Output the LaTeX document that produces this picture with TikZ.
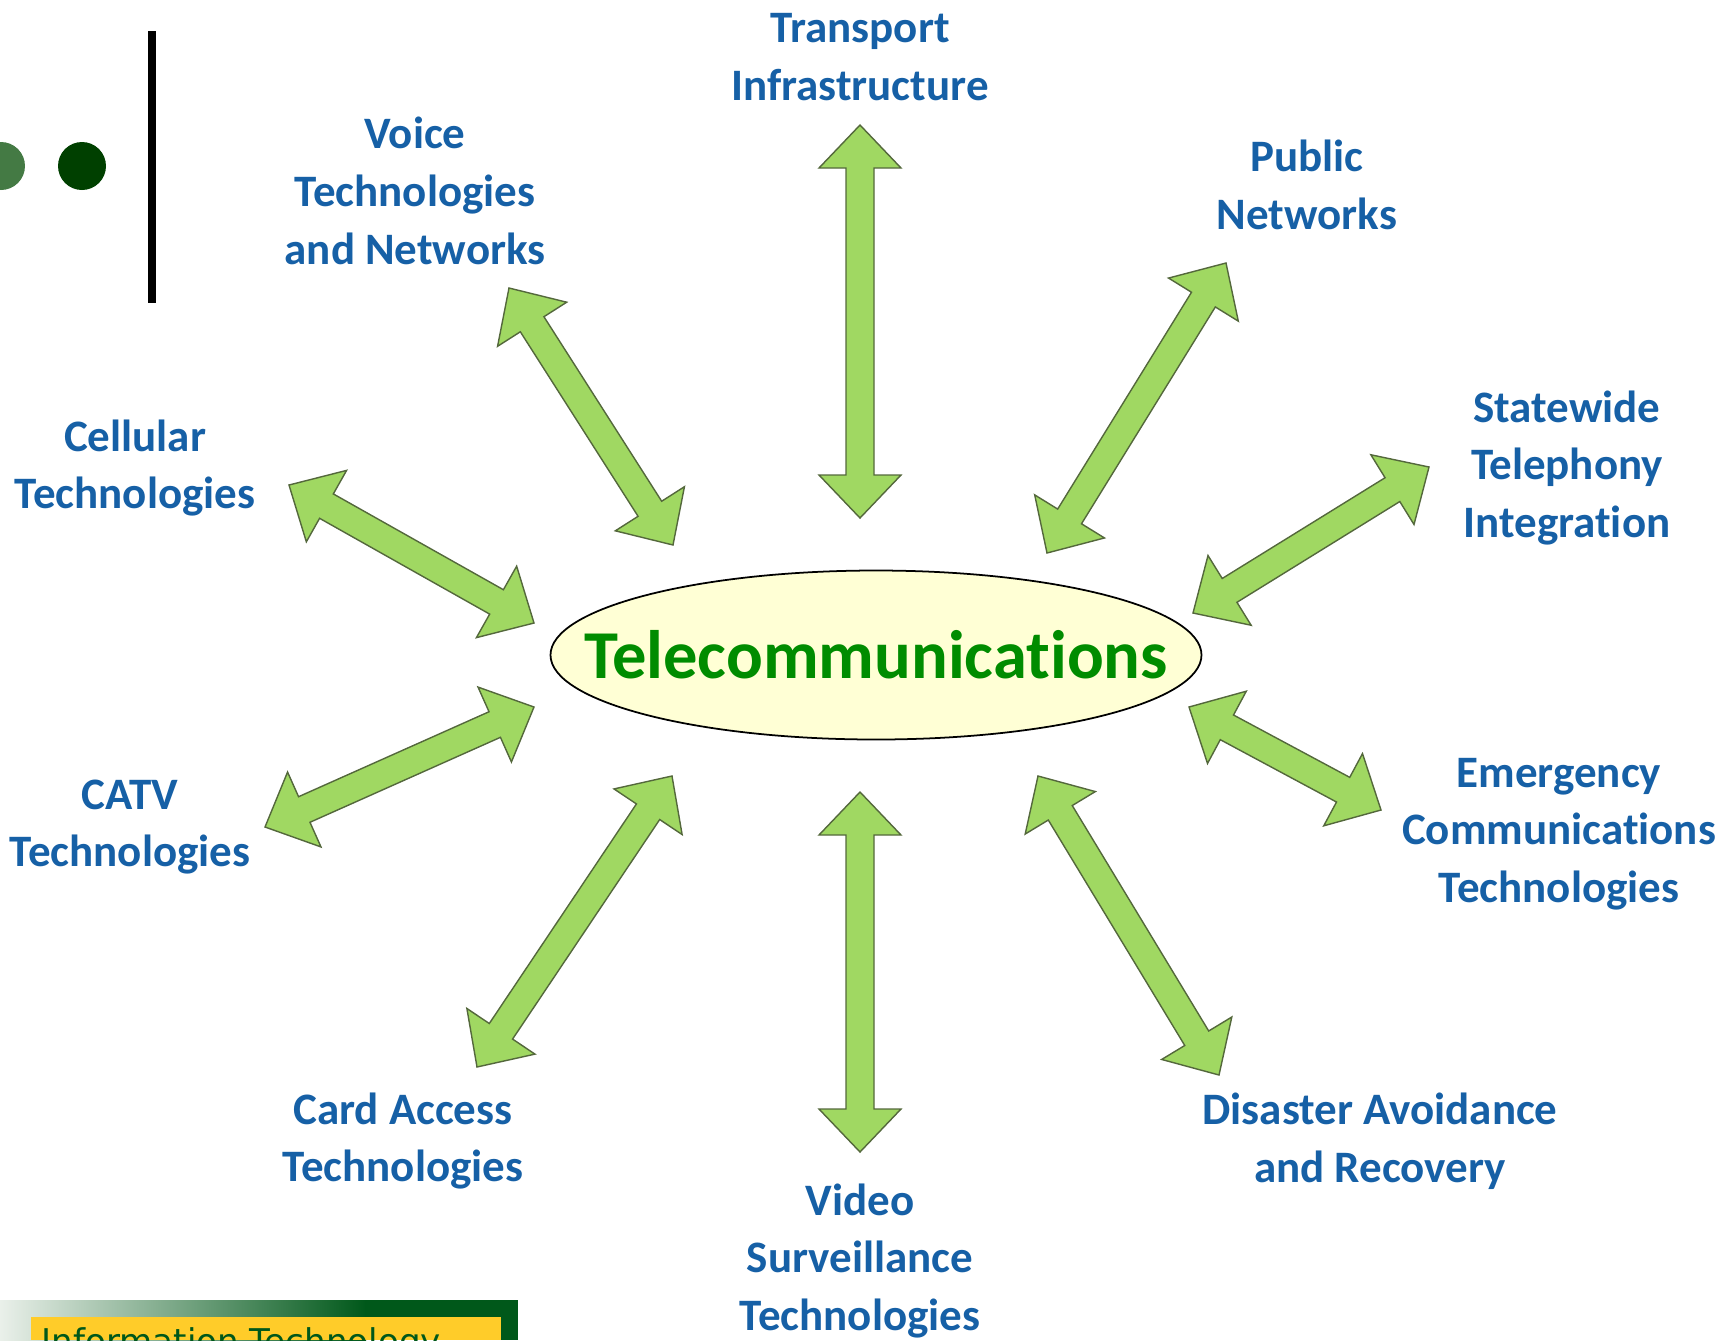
\documentclass[tikz,border=0pt]{standalone}
\usepackage{fontspec}
\setmainfont{Carlito}[Ligatures={NoCommon}]
\newfontfamily\bannerfont{DejaVu Sans}
\usetikzlibrary{positioning, calc, shapes.geometric}

\definecolor{topicblue}{RGB}{22,96,166}
\definecolor{telegreen}{RGB}{0,140,0}
\definecolor{ovalfill}{RGB}{255,255,213}
\definecolor{arrowgreen}{RGB}{160,216,98}
\definecolor{arrowedge}{RGB}{84,104,60}
\definecolor{dotlight}{RGB}{68,122,68}
\definecolor{dotdark}{RGB}{0,64,0}
\definecolor{bannerdark}{RGB}{0,88,26}
\definecolor{bannerlight}{RGB}{234,240,234}
\definecolor{banneryellow}{RGB}{255,204,41}

\newcommand{\headlen}{4.3mm}
\newcommand{\headhalf}{4.1mm}
\newcommand{\shafthalf}{1.4mm}

% two-headed block arrow between two named coordinates
\newcommand{\bothways}[2]{%
	\filldraw[blockarrow] (#1)
		-- ($(#1)!{\headlen}!(#2)!{\headhalf}!90:(#2)$)
		-- ($(#1)!{\headlen}!(#2)!{\shafthalf}!90:(#2)$)
		-- ($(#2)!{\headlen}!(#1)!{\shafthalf}!-90:(#1)$)
		-- ($(#2)!{\headlen}!(#1)!{\headhalf}!-90:(#1)$)
		-- (#2)
		-- ($(#2)!{\headlen}!(#1)!{\headhalf}!90:(#1)$)
		-- ($(#2)!{\headlen}!(#1)!{\shafthalf}!90:(#1)$)
		-- ($(#1)!{\headlen}!(#2)!{\shafthalf}!-90:(#2)$)
		-- ($(#1)!{\headlen}!(#2)!{\headhalf}!-90:(#2)$)
		-- cycle;}

\begin{document}
\begin{tikzpicture}[x=0.1mm, y=-0.1mm,
		topic/.style={align=center, inner sep=0pt, text=topicblue, font=\bfseries\fontsize{12.8pt}{16.4pt}\selectfont},
		hub/.style={ellipse, draw, line width=0.5pt, fill=ovalfill, minimum width=65.1mm, minimum height=16.9mm, inner sep=0pt, text=telegreen, font=\bfseries\fontsize{19.5pt}{22pt}\selectfont},
		blockarrow/.style={fill=arrowgreen, draw=arrowedge, line width=0.4pt, line join=miter}]
	\useasboundingbox (0,0) rectangle (1733,1340);

	% Slide decoration
	\fill[dotlight] (1,166) circle[radius=2.4mm];
	\fill[dotdark] (82,166) circle[radius=2.4mm];
	\fill[black] (148,31) rectangle (156,303);
	\begin{scope}
		\clip (0,1300) rectangle (518,1340);
		\shade[left color=bannerlight, right color=bannerdark] (0,1300) rectangle (366,1340);
		\fill[bannerdark] (365,1300) rectangle (518,1340);
		\fill[banneryellow] (31,1317) rectangle (501,1340);
		\node[anchor=base west, inner sep=0pt, text=bannerdark, font=\bannerfont\fontsize{9.7pt}{11pt}\selectfont] (banner) at (41,1353) {Information Technology};
	\end{scope}

	% Draw the vertices.
	\node[hub] (tele) at (876,655) {\makebox[0pt]{Telecommunications}};
	\node[topic] (transport) at (860,57) {Transport\\Infrastructure};
	\node[topic] (voice) at (415,191) {Voice\\Technologies\\and Networks};
	\node[topic] (public) at (1307,185) {Public\\Networks};
	\node[topic] (statewide) at (1567,468) {Statewide\\Telephony\\Integration};
	\node[topic] (cellular) at (135,468) {Cellular\\Technologies};
	\node[topic] (catv) at (130,827) {CATV\\Technologies};
	\node[topic] (emergency) at (1559,834) {Emergency\\Communications\\Technologies};
	\node[topic] (card) at (403,1141) {Card Access\\Technologies};
	\node[topic] (video) at (860,1261) {Video\\Surveillance\\Technologies};
	\node[topic] (disaster) at (1380,1141) {Disaster Avoidance\\and Recovery};

	% Arrow ends
	\coordinate (transport-out) at (860,125);
	\coordinate (transport-in) at (860,518);
	\coordinate (video-in) at (860,792);
	\coordinate (video-out) at (860,1152);
	\coordinate (voice-out) at (509,288);
	\coordinate (voice-in) at (673,545);
	\coordinate (public-out) at (1226,263);
	\coordinate (public-in) at (1047,553);
	\coordinate (statewide-out) at (1429,467);
	\coordinate (statewide-in) at (1193,613);
	\coordinate (cellular-out) at (289,485);
	\coordinate (cellular-in) at (534,623);
	\coordinate (catv-out) at (265,827);
	\coordinate (catv-in) at (534,707);
	\coordinate (emergency-in) at (1189,707);
	\coordinate (emergency-out) at (1381,810);
	\coordinate (card-in) at (672,776);
	\coordinate (card-out) at (477,1067);
	\coordinate (disaster-in) at (1038,776);
	\coordinate (disaster-out) at (1219,1075);

	% Connect vertices with block arrows
	\bothways{transport-out}{transport-in}
	\bothways{video-in}{video-out}
	\bothways{voice-out}{voice-in}
	\bothways{public-out}{public-in}
	\bothways{statewide-out}{statewide-in}
	\bothways{cellular-out}{cellular-in}
	\bothways{catv-out}{catv-in}
	\bothways{emergency-in}{emergency-out}
	\bothways{card-in}{card-out}
	\bothways{disaster-in}{disaster-out}
\end{tikzpicture}
\end{document}
